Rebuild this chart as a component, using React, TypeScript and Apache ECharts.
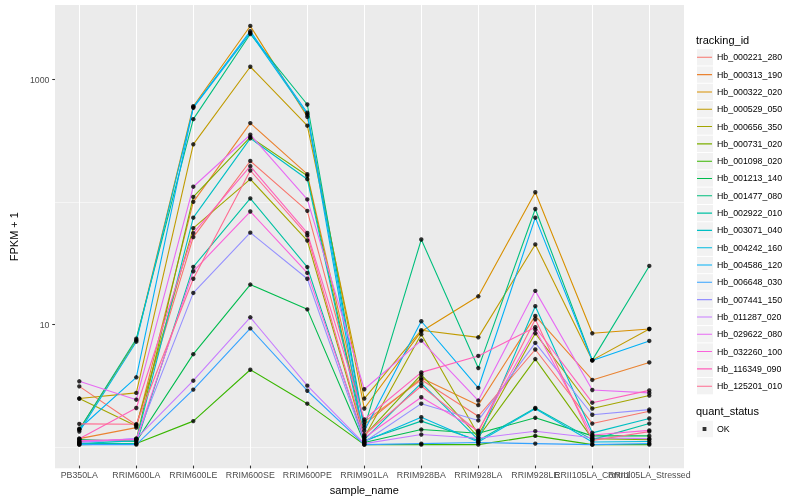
import React, { useEffect, useRef } from 'react';
import * as echarts from 'echarts';

const categories = ['PB350LA', 'RRIM600LA', 'RRIM600LE', 'RRIM600SE', 'RRIM600PE', 'RRIM901LA', 'RRIM928BA', 'RRIM928LA', 'RRIM928LE', 'RRII105LA_Control', 'RRII105LA_Stressed'];

const trackingIds = ['Hb_000221_280', 'Hb_000313_190', 'Hb_000322_020', 'Hb_000529_050', 'Hb_000656_350', 'Hb_000731_020', 'Hb_001098_020', 'Hb_001213_140', 'Hb_001477_080', 'Hb_002922_010', 'Hb_003071_040', 'Hb_004242_160', 'Hb_004586_120', 'Hb_006648_030', 'Hb_007441_150', 'Hb_011287_020', 'Hb_029622_080', 'Hb_032260_100', 'Hb_116349_090', 'Hb_125201_010'];

const lineColors = ['#F8766D', '#EA8331', '#D89000', '#C09B00', '#A3A500', '#7CAE00', '#39B600', '#00BB4E', '#00BF7D', '#00C1A3', '#00BFC4', '#00BAE0', '#00B0F6', '#35A2FF', '#9590FF', '#C77CFF', '#E76BF3', '#FA62DB', '#FF62BC', '#FF6C91'];

// FPKM + 1 per sample, in category order
const hb000221 = [3.01, 1.45, 50.6, 213, 83, 1.54, 3.41, 1.71, 6.04, 1.49, 1.88];
const hb000313 = [1.12, 1.38, 98.5, 436, 166, 1.46, 3.52, 2.11, 11.4, 3.4, 4.73];
const hb000322 = [1.33, 7.2, 600, 2735, 491, 1.98, 8.5, 16.5, 118, 8.2, 8.9];
const hb000529 = [2.39, 2.66, 292, 1265, 415, 2.39, 8.7, 7.6, 44, 4.94, 8.9];
const hb000656 = [2.39, 1.42, 59.8, 151, 47.4, 1.15, 8.05, 1.2, 8.2, 1.98, 2.53];
const hb000731 = [1.06, 1.1, 108, 335, 161, 1.18, 3.75, 1.15, 5.04, 1.12, 1.1];
const hb001098 = [1.0, 1.02, 1.56, 4.12, 2.17, 1.0, 1.0, 1.0, 1.18, 1.0, 1.0];
const hb001213 = [1.1, 1.06, 5.53, 20.6, 12.9, 1.04, 1.33, 1.24, 1.66, 1.18, 1.18];
const hb001477 = [1.33, 7.4, 470, 2350, 620, 1.38, 48.3, 4.25, 86, 4.94, 29.3];
const hb002922 = [1.02, 1.02, 28.8, 105, 28.7, 1.08, 1.56, 1.08, 2.0, 1.1, 1.49];
const hb003071 = [1.02, 1.08, 73, 327, 151, 1.1, 3.2, 1.1, 13.7, 1.25, 1.64];
const hb004242 = [1.28, 7.0, 582, 2400, 513, 1.06, 1.68, 1.05, 1.97, 1.05, 1.06];
const hb004586 = [1.35, 3.57, 590, 2480, 530, 1.3, 10.3, 2.92, 73, 4.9, 7.1];
const hb006648 = [1.0, 1.0, 2.83, 9.0, 2.77, 1.0, 1.02, 1.04, 1.02, 1.0, 1.02];
const hb007441 = [1.04, 1.12, 17.6, 55, 23, 1.05, 2.17, 1.58, 6.84, 1.76, 1.94];
const hb011287 = [1.05, 1.12, 3.35, 11.1, 3.05, 1.02, 1.21, 1.13, 1.29, 1.14, 1.12];
const hb029622 = [3.31, 2.34, 131, 350, 103, 2.85, 7.15, 2.3, 18.3, 2.81, 2.66];
const hb032260 = [1.08, 1.1, 26.5, 82, 25.7, 1.14, 2.45, 1.3, 8.8, 1.2, 1.31];
const hb116349 = [1.12, 2.0, 54.5, 193, 54.7, 1.61, 3.92, 5.35, 9.2, 2.21, 2.79];
const hb125201 = [1.48, 1.47, 23, 178, 52.2, 1.2, 3.03, 1.28, 10.7, 1.08, 1.28];

const seriesValues = [hb000221, hb000313, hb000322, hb000529, hb000656, hb000731, hb001098, hb001213, hb001477, hb002922, hb003071, hb004242, hb004586, hb006648, hb007441, hb011287, hb029622, hb032260, hb116349, hb125201];

const majorTicks = [10, 1000];
const minorTicks = [1, 100];
const quantStatus = 'OK';

const FONT = 'Liberation Sans, Arial, Helvetica, sans-serif';

export default function App() {
  const ref = useRef<HTMLDivElement>(null);
  useEffect(() => {
    const chart = echarts.init(ref.current as HTMLDivElement, null, { renderer: 'svg' });
    const yMin = 0.673;
    const yMax = 4064;

    const lineSeries = trackingIds.map((id, i) => ({
      type: 'line',
      name: id,
      xAxisIndex: 1,
      yAxisIndex: 1,
      data: seriesValues[i],
      color: lineColors[i],
      lineStyle: { width: 1.1, color: lineColors[i] },
      showSymbol: false,
      symbol: 'none',
      silent: true,
      z: 2,
    }));

    const points: number[][] = [];
    seriesValues.forEach((vals) => vals.forEach((v, c) => points.push([c, v])));

    const option = {
      animation: false,
      textStyle: { fontFamily: FONT },
      title: [
        { text: 'tracking_id', left: 696, top: 34.5, padding: 0, textStyle: { fontSize: 11, fontWeight: 'normal', color: '#000', fontFamily: FONT } },
        { text: 'quant_status', left: 696, top: 405, padding: 0, textStyle: { fontSize: 11, fontWeight: 'normal', color: '#000', fontFamily: FONT } },
      ],
      grid: [
        { left: 45, right: 116, top: 5, bottom: 31.7, show: true, backgroundColor: '#EBEBEB', borderWidth: 0 },
        { left: 79.3, right: 150.7, top: 5, bottom: 31.7, show: false },
      ],
      xAxis: [
        { gridIndex: 0, type: 'value', min: 0, max: 1, show: false },
        {
          gridIndex: 1,
          type: 'category',
          data: categories,
          boundaryGap: false,
          axisLine: { show: false },
          axisTick: { show: true, length: 2.75, interval: 0, lineStyle: { color: '#333333', width: 1.07 } },
          axisLabel: { interval: 0, hideOverlap: false, fontSize: 8.8, color: '#4D4D4D', margin: 4.5 },
          splitLine: { show: true, interval: 0, lineStyle: { color: '#FFFFFF', width: 1.07 } },
          name: 'sample_name',
          nameLocation: 'middle',
          nameGap: 14,
          nameTextStyle: { fontSize: 11, color: '#000' },
        },
      ],
      yAxis: [
        {
          gridIndex: 0,
          type: 'log',
          logBase: 10,
          min: yMin,
          max: yMax,
          axisLine: { show: false },
          axisTick: { show: true, length: 2.75, customValues: majorTicks, lineStyle: { color: '#333333', width: 1.07 } },
          axisLabel: {
            customValues: majorTicks,
            fontSize: 8.8,
            color: '#4D4D4D',
            margin: 5.5,
            formatter: (v: number) => {
              const l = Math.log10(v);
              return Math.abs(l - 1) < 1e-6 || Math.abs(l - 3) < 1e-6 ? String(Math.round(v)) : '';
            },
          },
          splitLine: { show: true, showMinLine: false, showMaxLine: false, lineStyle: { color: '#FFFFFF', width: 1.07 } },
          name: 'FPKM + 1',
          nameLocation: 'middle',
          nameGap: 26,
          nameTextStyle: { fontSize: 11, color: '#000' },
        },
        { gridIndex: 1, type: 'log', logBase: 10, min: yMin, max: yMax, show: false },
      ],
      legend: [
        {
          data: trackingIds,
          orient: 'vertical',
          left: 697,
          top: 49.15,
          padding: 0,
          itemWidth: 16,
          itemHeight: 16.3,
          itemGap: 1.01,
          icon: 'rect',
          symbolKeepAspect: false,
          itemStyle: { color: '#F2F2F2', borderWidth: 0 },
          formatter: () => '',
          textStyle: { fontSize: 1 },
          selectedMode: false,
        },
        {
          data: trackingIds,
          orient: 'vertical',
          left: 697,
          top: 48.65,
          padding: 0,
          itemWidth: 15,
          itemHeight: 17.31,
          itemGap: 0,
          icon: 'path://M0,0L0.01,0L0,0.01Z M15,17.31L14.99,17.31L15,17.3Z M0,8.12L15,8.12L15,9.19L0,9.19Z',
          symbolKeepAspect: false,
          itemStyle: { borderWidth: 0 },
          textStyle: { fontSize: 8.8, color: '#000' },
          selectedMode: false,
        },
        {
          data: [quantStatus],
          orient: 'vertical',
          left: 697,
          top: 429 - 8.15,
          padding: 0,
          itemWidth: 16,
          itemHeight: 16.3,
          icon: 'rect',
          symbolKeepAspect: false,
          itemStyle: { color: '#F2F2F2', borderWidth: 0 },
          formatter: () => '',
          textStyle: { fontSize: 1 },
          selectedMode: false,
        },
        {
          data: [quantStatus],
          orient: 'vertical',
          left: 697,
          top: 429 - 8.65,
          padding: 0,
          itemWidth: 15,
          itemHeight: 17.31,
          icon: 'path://M0,0L0.01,0L0,0.01Z M15,17.31L14.99,17.31L15,17.3Z M5.6,6.75L9.4,6.75L9.4,10.55L5.6,10.55Z',
          symbolKeepAspect: false,
          itemStyle: { borderWidth: 0 },
          textStyle: { fontSize: 8.8, color: '#000' },
          selectedMode: false,
        },
      ],
      series: [
        {
          type: 'line',
          name: '__panel',
          xAxisIndex: 0,
          yAxisIndex: 0,
          data: [],
          silent: true,
          markLine: {
            silent: true,
            z: 1,
            symbol: ['none', 'none'],
            label: { show: false },
            lineStyle: { color: '#FFFFFF', width: 0.53, type: 'solid' },
            emphasis: { disabled: true },
            data: minorTicks.map((t) => ({ yAxis: t })),
          },
        },
        ...lineSeries,
        {
          type: 'scatter',
          name: quantStatus,
          xAxisIndex: 1,
          yAxisIndex: 1,
          data: points,
          symbol: 'circle',
          symbolSize: 4.4,
          itemStyle: { color: '#000000' },
          silent: true,
          z: 3,
        },
      ],
    };
    chart.setOption(option as any);
    return () => chart.dispose();
  }, []);
  return <div ref={ref} style={{ position: 'fixed', left: 0, top: 0, width: 800, height: 500 }} />;
}
